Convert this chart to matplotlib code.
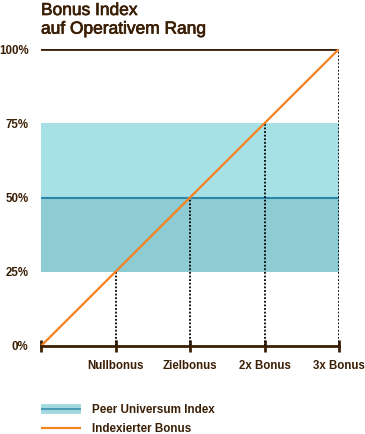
import numpy as np
import matplotlib.pyplot as plt
import matplotlib.patheffects as pe
from matplotlib.lines import Line2D

plt.rcParams['font.family'] = ['Liberation Sans', 'DejaVu Sans']

# data
x_labels = ['Nullbonus', 'Zielbonus', '2x Bonus', '3x Bonus']
x_pos = [0, 1, 2, 3, 4]
bonus = [0, 25, 50, 75, 100]
y_ticks = [0, 25, 50, 75, 100]
y_labels = ['0%', '25%', '50%', '75%', '100%']
peer_low, peer_mid, peer_high = 25, 50, 75

brown = '#3b1f05'
orange = '#f58220'

fig = plt.figure(figsize=(3.65, 4.34), dpi=100)
ax = fig.add_axes([41 / 365, 88 / 434, 298 / 365, 297 / 434])

# peer universe band
ax.axhspan(peer_mid, peer_high, color='#a7e0e5', lw=0)
ax.axhspan(peer_low, peer_mid, color='#8ecbd3', lw=0)
ax.axhline(peer_mid, color='#2c88aa', lw=1.5)

# dotted drop lines
for xp, yp in zip(x_pos[1:], bonus[1:]):
    ax.plot([xp, xp], [0, yp], color='black', lw=1.3, ls=(0, (1, 1)), zorder=2)

ax.axhline(100, color=brown, lw=2, zorder=3)
ax.plot(x_pos, bonus, color=orange, lw=1.6, zorder=4)

ax.set_xlim(0, 4)
ax.set_ylim(0, 100)
for s in ['top', 'right', 'left']:
    ax.spines[s].set_visible(False)
ax.spines['bottom'].set_color(brown)
ax.spines['bottom'].set_linewidth(2)
ax.spines['bottom'].set_zorder(5)

ax.set_xticks(x_pos)
ax.set_xticklabels([''] + x_labels, fontsize=8.3, fontweight='bold', color=brown)
ax.tick_params(axis='x', direction='inout', length=8, width=2, color=brown, pad=6)
ax.set_yticks(y_ticks)
ax.set_yticklabels(y_labels, fontsize=8.3, fontweight='bold', color=brown)
ax.tick_params(axis='y', length=0, pad=9)

fig.text(41 / 365, 1 - 3 / 434, 'Bonus Index\nauf Operativem Rang', ha='left', va='top',
         fontsize=12.5, color=brown, linespacing=1.3,
         path_effects=[pe.withStroke(linewidth=0.5, foreground=brown)])

# legend
handles = [Line2D([], [], color='#9fd8de', lw=7, solid_capstyle='butt'),
           Line2D([], [], color=orange, lw=1.6, solid_capstyle='butt')]
leg = fig.legend(handles, ['Peer Universum Index', 'Indexierter Bonus'],
                 loc='lower left', bbox_to_anchor=(41 / 365, -1 / 434), frameon=False,
                 borderpad=0, borderaxespad=0,
                 prop={'size': 8.4, 'weight': 'bold'}, handlelength=3.4, labelspacing=0.6,
                 handletextpad=0.95)
for t in leg.get_texts():
    t.set_color(brown)
leg.legend_handles[0].set_path_effects([pe.Normal(), pe.Stroke(linewidth=1.2, foreground='#3a8fae')])

fig.savefig('out.png', dpi=100, facecolor='white')
